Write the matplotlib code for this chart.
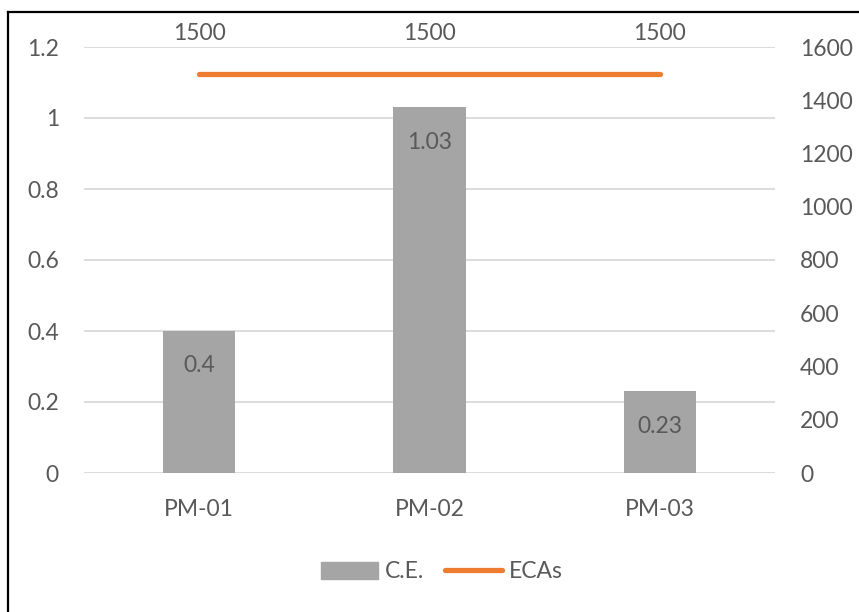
import matplotlib
matplotlib.use("Agg")
import matplotlib.pyplot as plt
from matplotlib.lines import Line2D
import numpy as np

categories = ["PM-01", "PM-02", "PM-03"]
ce_values = [0.4, 1.03, 0.23]
ecas_values = [1500, 1500, 1500]
left_ticks = [0, 0.2, 0.4, 0.6, 0.8, 1.0, 1.2]
left_tick_labels = ["0", "0.2", "0.4", "0.6", "0.8", "1", "1.2"]
right_ticks = [0, 200, 400, 600, 800, 1000, 1200, 1400, 1600]

TXT = "#595959"
GRID = "#d9d9d9"
BAR = "#a5a5a5"
ORANGE = "#ed7d31"
FS = 16.5

plt.rcParams["font.family"] = ["Lato", "DejaVu Sans"]

W, H = 859, 612
fig = plt.figure(figsize=(W / 100, H / 100), dpi=100)
ax = fig.add_axes([84 / W, 1 - 473 / H, (775 - 84) / W, (473 - 47) / H])
ax2 = ax.twinx()

x = np.arange(len(categories))
ax.bar(x, ce_values, width=0.315, color=BAR, zorder=2)
ax.set_xlim(-0.5, len(categories) - 0.5)
ax.set_ylim(0, 1.2)
ax.set_yticks(left_ticks)
ax.set_yticklabels(left_tick_labels)
ax.yaxis.grid(True, color=GRID, linewidth=1.3, zorder=0)
ax.set_axisbelow(True)
for s in ax.spines.values():
    s.set_visible(False)
for s in ax2.spines.values():
    s.set_visible(False)
ax.tick_params(axis="both", length=0, labelsize=FS, labelcolor=TXT)
ax.tick_params(axis="y", pad=18)
ax.tick_params(axis="x", pad=19)
ax.set_xticks(x)
ax.set_xticklabels(categories)

for xi, v in zip(x, ce_values):
    ax.annotate(f"{v:g}", (xi, v), xytext=(0, -25), textcoords="offset points",
                ha="center", va="center", fontsize=FS, color=TXT)

ax2.plot(x, ecas_values, color=ORANGE, linewidth=3.8, solid_capstyle="round", zorder=3)
ax2.set_ylim(0, 1600)
ax2.set_yticks(right_ticks)
ax2.tick_params(axis="y", length=0, labelsize=FS, labelcolor=TXT, pad=18)
for xi, v in zip(x, ecas_values):
    ax2.annotate(f"{v:g}", (xi, v), xytext=(0, 29), textcoords="offset points",
                 ha="center", va="center", fontsize=FS, color=TXT)

handles = [plt.Rectangle((0, 0), 1, 1, color=BAR),
           Line2D([0], [0], color=ORANGE, linewidth=3.8, solid_capstyle="round")]
fig.legend(handles, ["C.E.", "ECAs"], loc="center", bbox_to_anchor=(442 / W, 1 - 572 / H),
           ncol=2, frameon=False, fontsize=FS, labelcolor=TXT, handlelength=2.5,
           handletextpad=0.3, columnspacing=0.9, handleheight=0.8)

fig.add_artist(Line2D([8 / W, 8 / W], [0, 1 - 12 / H], transform=fig.transFigure, color="black", linewidth=1.6))
fig.add_artist(Line2D([8 / W, 1], [1 - 12 / H, 1 - 12 / H], transform=fig.transFigure, color="black", linewidth=1.6))

fig.savefig("out.png", dpi=100)
